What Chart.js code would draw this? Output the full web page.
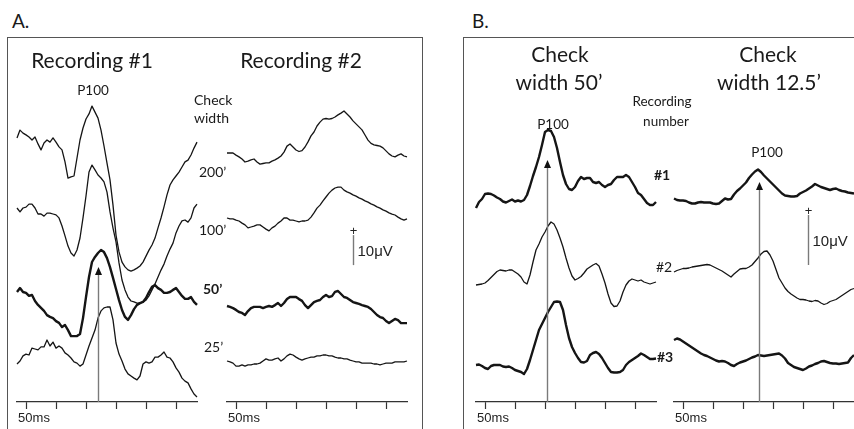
<!DOCTYPE html>
<html>
<head>
<meta charset="utf-8">
<script src="https://cdn.jsdelivr.net/npm/chart.js@4.4.1/dist/chart.umd.min.js"></script>
<style>
  body { margin: 0; width: 854px; height: 429px; overflow: hidden; background: #fff; position: relative; font-family: Lato, sans-serif; color: #1a1a1a; }
  .box { position: absolute; top: 37px; height: 420px; border: 1.5px solid #555; }
  canvas { position: absolute; top: 40px; }
  .t { position: absolute; white-space: nowrap; line-height: 1; }
  .c { transform: translate(-50%, -50%); }
  .l { transform: translateY(-50%); }
</style>
</head>
<body>
<div class="box" style="left:7px;width:414px"></div>
<div class="box" style="left:463px;width:420px"></div>
<canvas id="colA1" width="200" height="400" style="left:7px"></canvas>
<canvas id="colA2" width="200" height="400" style="left:217px"></canvas>
<canvas id="colB1" width="200" height="400" style="left:466px"></canvas>
<canvas id="colB2" width="200" height="400" style="left:664px"></canvas>
<div id="labels"></div>
<script>
// sample times (ms) shared by every trace
const times = [-15, -10, -5, 0, 5, 10, 15, 20, 25, 30, 35, 40, 45, 50, 55, 60, 65, 70, 75, 80,
  85, 90, 95, 100, 105, 110, 115, 120, 125, 130, 135, 140, 145, 150, 155, 160, 165, 170, 175, 180,
  185, 190, 195, 200, 205, 210, 215, 220, 225, 230, 235, 240, 245, 250, 255, 260, 265, 270, 275, 280, 285]
const tickTimes = [0, 50, 100, 150, 200, 250]
const tickLabel = '50ms'
const checkWidths = ['200’', '100’', '50’', '25’']
const recordings = ['#1', '#2', '#3']

// Panel A, recording #1 (uV)
const a1_200 = [-0.3, 2.3, 1.3, 0.7, 0, -1, 0, -2.3, -4.3, -2,
  -1, -1.7, -0.3, -1.7, -3.3, -4.3, -8.3, -13.7, -13.3, -13,
  -7, -1, 3, 6, 7.7, 10.3, 8.3, 6.3, 2.3, -3,
  -8.7, -14.3, -22.7, -32.7, -38.3, -41.7, -43.3, -44.3, -44.7, -44.3,
  -43.7, -43, -41.7, -39.7, -37.7, -36, -33.7, -30.3, -27, -23.3,
  -19.3, -16, -14.3, -13, -11.7, -10, -8.3, -7.7, -6, -3.7, -1.7]
const a1_100 = [0, -1.3, 0, 0.3, 1.3, 1.3, 0, -2, -2, -2.7,
  -1.7, -1.7, -2, -2.3, -3.3, -6, -9.3, -12.7, -15, -16,
  -14, -10, -3.3, 4, 12, 14.3, 12.7, 11, 10, 8.7,
  5.3, -1.3, -6.7, -11.3, -18.3, -24, -27.3, -29.7, -31, -31.3,
  -31.7, -31.7, -31.3, -30.7, -29.3, -27.3, -25.3, -23, -20.7, -18.7,
  -16, -13.7, -11.7, -8.3, -6, -4.3, -4, -4.7, -3.3, 0, 1.3]
const a1_50 = [0, 1.3, 0, -0.3, -1.3, -1, -3, -4.3, -5.3, -6.3,
  -7.7, -8.3, -8.7, -9.7, -10.3, -11.7, -11, -12.7, -14.7, -14.7,
  -14.7, -14, -8.7, -1.7, 5, 10, 11.7, 13, 14, 13.3,
  11.3, 8.3, 4.7, 1, -2.7, -6, -8.3, -9.3, -7.7, -5.7,
  -4.3, -3.7, -3.3, -2, 0, 1.7, 2.3, 1.3, 0.7, -0.3,
  -0.3, 0, 0.7, 1.3, 0, -1.3, -2.3, -2.3, -1.7, -3.3, -4.3]
const a1_25 = [-3, -2, -0.3, 0.3, 0, 2.3, 2, 1.7, 2.7, 2.7,
  5, 3, 4.3, 2.3, 3, 2.3, 0.7, 0, -1, -2.3,
  -2.7, -3.7, -3, 0, 3, 5.7, 8.3, 12.3, 14.7, 15.7,
  16, 16, 11.7, 4, 0.3, -2, -4.7, -6.3, -7, -7.7,
  -8.3, -7, -3, -2.3, -2.7, -2.3, -0.7, -0.7, 0, 1,
  -0.7, -1, -2.3, -4.3, -5.7, -7.7, -8.7, -9.3, -11.3, -13, -14]

// Panel A, recording #2 (uV)
const a2_200 = [0, 0, 0, -0.7, -1.3, -2, -3, -2.7, -2.3, -2,
  -3, -3.7, -3.5, -3.3, -3.3, -2.7, -2.3, -1.7, -1, 0.3,
  2.3, 3, 2, 1, 0.5, 0.8, 2, 3.7, 5.7, 7,
  9, 10.3, 11.3, 11.5, 11.3, 11.5, 12, 12.7, 13.3, 14,
  13, 12, 10.7, 9.7, 8.7, 7.7, 6, 4.3, 3.2, 2.7,
  2.5, 2.3, 1.7, 0.7, -0.3, -1, -1.3, -0.7, -0.3, -1, -1.3]
const a2_100 = [0, -0.3, -0.3, -0.7, -1, -1.7, -2.3, -3.3, -3, -2.7,
  -2.3, -2.3, -3, -3.7, -4.3, -3.3, -2.7, -1.7, -1, 0,
  0, -0.7, -0.7, -1, -1.3, -1, -1, -0.7, 0.3, 1.7,
  3.3, 4.3, 5.7, 7, 8.3, 9.3, 10, 10.3, 10.3, 9.3,
  8.7, 8.3, 7.7, 7.3, 6.7, 6.3, 5.7, 5.3, 4.7, 4.3,
  3.7, 3.3, 2.7, 2.3, 1.7, 1.3, 1, 0.3, -0.3, -0.7, -0.3]
const a2_50 = [0, -0.3, -0.7, -1.3, -2, -2.3, -3, -1.7, -0.7, -0.3,
  -0.3, -0.3, -0.7, -0.3, 0, -0.3, 0.3, 1, 0, 1,
  2.3, 3, 3, 3, 2.3, 1.7, 0.3, -0.7, 0.3, 1.3,
  1.7, 2, 3, 3.7, 3, 3.3, 4.7, 5, 4, 3,
  2.7, 2, 1.3, 1, 0.7, 0.3, 0, -0.3, -1, -2,
  -3, -3.7, -4, -5, -5.7, -5, -4.3, -4.7, -5.7, -5.7, -5.7]
const a2_25 = [0, -0.3, -0.7, -1.7, -1.7, -1.3, -1.7, -1.3, -1.3, -1,
  -1, -0.7, 0, 0.7, 0.3, 0.3, 0.7, 1, 0, 0.7,
  1.7, 2.3, 2, 1.3, 0.7, 0.3, 0.7, 1, 1.3, 1.3,
  1.7, 1.7, 2, 2, 1.7, 1.7, 1.3, 1, 1, 0.7,
  0.7, 0.3, 0, -0.3, -0.3, -0.7, -0.7, -0.7, -0.7, -1,
  -1, -1.3, -1, -0.7, -0.7, -0.7, -0.3, -0.3, -0.3, -0.3, 0]

// Panel B, check width 50' (uV)
const b1_r1 = [-1.6, -0.4, 0.2, 1.2, 1.3, 1.2, 0.9, 0.5, 0.2, -0.3,
  -0.5, -0.2, 0.1, -0.3, -0.1, -0.3, 0, 1, 2.8, 4.8,
  6.6, 8.6, 11, 13.6, 14, 13.8, 12.6, 10.4, 7.6, 5,
  3.2, 2.2, 2, 2.6, 3.8, 4.6, 4.2, 4.4, 4.4, 3.6,
  3.4, 3.6, 3, 2.6, 3, 3.2, 4, 4.6, 4.6, 4.6,
  5, 4.6, 3.6, 2.6, 1.4, 1, 0.2, -0.6, -1, -1, -0.4]
const b1_r2 = [-0.6, -0.5, -0.4, -0.2, 0.3, 0.9, 1.5, 2.1, 2.4, 2.3,
  2.2, 2.4, 2.4, 2, 1.6, 1, 0, -0.4, 1.4, 4,
  6.4, 7.6, 9, 10, 11.2, 12, 11.6, 10.4, 8.8, 7,
  4.8, 2.8, 1.2, 0.4, 0.7, 1.1, 1.8, 2.6, 3, 3.4,
  3.7, 3.2, 1.6, -0.2, -2.4, -4.2, -4.9, -4.8, -3.8, -2,
  -0.6, 0.2, 0.6, 0.4, 0.2, 0.4, 0, -0.2, -0.4, -0.2, 0]
const b1_r3 = [0, 0.1, -0.2, -0.6, -0.8, -0.2, 0, 0, 0, -0.3,
  -0.4, -0.3, -0.6, -1, -1.2, -1.4, -1.8, -0.8, 1, 3,
  5, 7, 8.2, 9.4, 10.6, 11.6, 12.6, 12.7, 12.6, 11,
  8, 5.4, 3.6, 2.4, 1.4, 0.6, 0.5, 0.8, 2, 2.4,
  2.6, 2.2, 1.4, 0.4, -0.6, -1.4, -1.5, -1.5, -1.4, -1,
  0, 0.6, 1, 1.4, 1.8, 2.3, 2, 1.6, 1.2, 1.2, 1.3]

// Panel B, check width 12.5' (uV)
const b2_r1 = [0.3, 0, -0.1, -0.1, -0.2, -0.5, -0.7, -0.7, -0.5, -0.4,
  -0.5, -0.5, -0.5, -0.7, -0.8, -0.7, -0.2, 0.3, 0.1, 0.2,
  1.1, 1.8, 2.3, 2.9, 3.5, 4.4, 5.1, 5.7, 6.1, 5.6,
  4.9, 4.3, 3.7, 3.1, 2.5, 1.9, 1.3, 0.9, 0.8, 0.7,
  0.7, 0.8, 1.3, 1.6, 1.9, 2.3, 2.7, 3.2, 2.9, 2.6,
  2.4, 2.2, 2, 2.2, 2.3, 2, 1.8, 1.7, 1.5, 1.4, 1.3]
const b2_r2 = [-0.4, -0.1, 0.1, 0.3, 0.3, 0.4, 0.6, 0.7, 0.8, 0.9,
  1, 1.1, 1, 0.7, 0.4, 0.1, -0.2, -0.6, -1, -1.4,
  -0.8, -0.3, 0.2, 0.3, 0.3, 0.6, 1, 1.7, 2.4, 3.2,
  3.7, 3.8, 3, 1.8, 0.1, -1.6, -2.6, -3.6, -4.3, -4.8,
  -5.2, -5.6, -5.9, -5.9, -6, -6.2, -6.3, -6.1, -6.2, -6.6,
  -6.9, -6.7, -6.3, -6.1, -5.9, -5.5, -5.1, -4.7, -4.3, -3.9, -3.7]
const b2_r3 = [4, 4.3, 4.1, 3.7, 3.3, 2.9, 2.5, 2.1, 1.7, 1.3,
  1, 0.8, 0.5, 0.2, -0.1, -0.3, -0.2, -0.3, -0.6, -1,
  -1.2, -0.8, -0.5, -0.3, -0.1, 0.2, 0.5, 0.7, 1, 0.9,
  0.8, 0.9, 1, 1.1, 1.2, 1.3, 0.9, 0.3, -0.6, -1,
  -1.4, -1.6, -1.8, -2, -1.7, -1.3, -1.1, -0.8, -0.6, -0.3,
  -0.2, -0.4, -0.6, -0.7, -0.7, -0.8, -0.7, -0.6, -0.5, 0.4, 1]

// page rows of the plot area (canvas top is 40)
const AREA_TOP = 40
const AREA_BOTTOM = 402

// base = page row of the trace's 0 uV
const columns = [
  { id: 'colA1', pxPerUv: 3,
    traces: [{ data: a1_200, base: 137 }, { data: a1_100, base: 208 }, { data: a1_50, base: 292, bold: true }, { data: a1_25, base: 355 }],
    arrows: [{ x: 120, tip: 8.3, axis: 'y2' }], bars: [] },
  { id: 'colA2', pxPerUv: 3,
    traces: [{ data: a2_200, base: 153 }, { data: a2_100, base: 218 }, { data: a2_50, base: 306, bold: true }, { data: a2_25, base: 361 }],
    arrows: [], bars: [{ x: 195, from: -15.7, axis: 'y1' }] },
  { id: 'colB1', pxPerUv: 5,
    traces: [{ data: b1_r1, base: 200, bold: true }, { data: b1_r2, base: 282 }, { data: b1_r3, base: 365, bold: true }],
    arrows: [{ x: 103.3, tip: 8, axis: 'y0' }], bars: [] },
  { id: 'colB2', pxPerUv: 5,
    traces: [{ data: b2_r1, base: 200, bold: true }, { data: b2_r2, base: 270 }, { data: b2_r3, base: 360, bold: true }],
    arrows: [{ x: 126.7, tip: 3.6, axis: 'y0' }], bars: [{ x: 208.3, from: 1, axis: 'y1' }] },
]

function makeMarks(col) {
  return {
    id: 'marks',
    afterDatasetsDraw(chart) {
      const ctx = chart.ctx
      const xs = chart.scales.x
      const area = chart.chartArea
      col.arrows.forEach(a => {
        const px = Math.round(xs.getPixelForValue(a.x)) + 0.5
        const tipY = chart.scales[a.axis].getPixelForValue(a.tip)
        ctx.save()
        ctx.strokeStyle = '#7a7a7a'
        ctx.lineWidth = 1.4
        ctx.beginPath()
        ctx.moveTo(px, area.bottom)
        ctx.lineTo(px, tipY + 7)
        ctx.stroke()
        ctx.fillStyle = '#111'
        ctx.beginPath()
        ctx.moveTo(px, tipY)
        ctx.lineTo(px - 3.5, tipY + 8)
        ctx.lineTo(px + 3.5, tipY + 8)
        ctx.closePath()
        ctx.fill()
        ctx.restore()
      })
      col.bars.forEach(b => {
        const px = Math.round(xs.getPixelForValue(b.x)) + 0.5
        const ys = chart.scales[b.axis]
        const y0 = ys.getPixelForValue(b.from)
        const y1 = ys.getPixelForValue(b.from + 10)
        ctx.save()
        ctx.strokeStyle = '#7a7a7a'
        ctx.lineWidth = 1.4
        ctx.beginPath()
        ctx.moveTo(px, y0)
        ctx.lineTo(px, y1)
        ctx.stroke()
        ctx.fillStyle = '#222'
        ctx.font = '13px "Liberation Sans"'
        ctx.textAlign = 'center'
        ctx.textBaseline = 'middle'
        ctx.fillText('+', px, y1 - 4)
        ctx.font = '15px "Liberation Sans"'
        ctx.textAlign = 'left'
        ctx.fillText('10μV', px + 4, (y0 + y1) / 2 + 2)
        ctx.restore()
      })
    }
  }
}

columns.forEach(col => {
  const scales = {
    x: {
      type: 'linear', min: -15, max: 285,
      afterBuildTicks: s => { s.ticks = tickTimes.map(v => ({ value: v })) },
      afterFit: s => { s.height = 38 },
      grid: { drawOnChartArea: false, tickLength: 7, color: '#333', tickWidth: 1.2 },
      border: { color: '#333', width: 1.2 },
      ticks: {
        autoSkip: false, maxRotation: 0, padding: 2, labelOffset: 8, color: '#222',
        font: { family: 'Liberation Sans', size: 13 },
        callback: (v, i) => (i === 0 ? tickLabel : '')
      }
    }
  }
  const datasets = col.traces.map((tr, i) => {
    scales['y' + i] = {
      display: false,
      min: -(AREA_BOTTOM - tr.base) / col.pxPerUv,
      max: (tr.base - AREA_TOP) / col.pxPerUv
    }
    return {
      data: times.map((t, k) => ({ x: t, y: tr.data[k] })),
      yAxisID: 'y' + i,
      borderColor: '#151515',
      borderWidth: tr.bold ? 2.4 : 1.3,
      borderJoinStyle: 'round',
      pointRadius: 0,
      tension: 0,
      clip: false
    }
  })
  new Chart(document.getElementById(col.id), {
    type: 'line',
    data: { datasets },
    options: {
      responsive: false,
      animation: false,
      devicePixelRatio: 1,
      events: [],
      layout: { padding: { left: 10, right: 10, top: 0, bottom: 0 } },
      plugins: { legend: { display: false }, tooltip: { enabled: false } },
      scales
    },
    plugins: [makeMarks(col)]
  })
})

// text labels
const labels = [
  { text: 'A.', x: 12, y: 20, size: 19, align: 'l' },
  { text: 'B.', x: 472, y: 20, size: 19, align: 'l' },
  { text: 'Recording #1', x: 92, y: 59, size: 21 },
  { text: 'Recording #2', x: 301, y: 59, size: 21 },
  { text: 'P100', x: 93, y: 91, size: 13.5 },
  { text: 'Check', x: 194, y: 100, size: 14, align: 'l' },
  { text: 'width', x: 194, y: 118, size: 14, align: 'l' },
  { text: checkWidths[0], x: 199, y: 172, size: 14, align: 'l' },
  { text: checkWidths[1], x: 199, y: 230, size: 14, align: 'l' },
  { text: checkWidths[2], x: 203, y: 289, size: 14, align: 'l', bold: true },
  { text: checkWidths[3], x: 204, y: 347, size: 14, align: 'l' },
  { text: 'Check', x: 560, y: 53, size: 21 },
  { text: 'width 50’', x: 559, y: 81, size: 21 },
  { text: 'Check', x: 768, y: 53, size: 21 },
  { text: 'width 12.5’', x: 769, y: 81, size: 21 },
  { text: 'Recording', x: 662, y: 102, size: 13.5 },
  { text: 'number', x: 666, y: 122, size: 13.5 },
  { text: 'P100', x: 553, y: 125, size: 13.5 },
  { text: 'P100', x: 767, y: 153, size: 13.5 },
  { text: recordings[0], x: 654, y: 175, size: 14, align: 'l', bold: true },
  { text: recordings[1], x: 656, y: 267, size: 14, align: 'l' },
  { text: recordings[2], x: 657, y: 357, size: 14, align: 'l', bold: true },
]
const holder = document.getElementById('labels')
labels.forEach(lb => {
  const d = document.createElement('div')
  d.className = 't ' + (lb.align || 'c')
  d.textContent = lb.text
  d.style.left = lb.x + 'px'
  d.style.top = lb.y + 'px'
  d.style.fontSize = lb.size + 'px'
  if (lb.bold) d.style.fontWeight = 'bold'
  holder.appendChild(d)
})
</script>
</body>
</html>
